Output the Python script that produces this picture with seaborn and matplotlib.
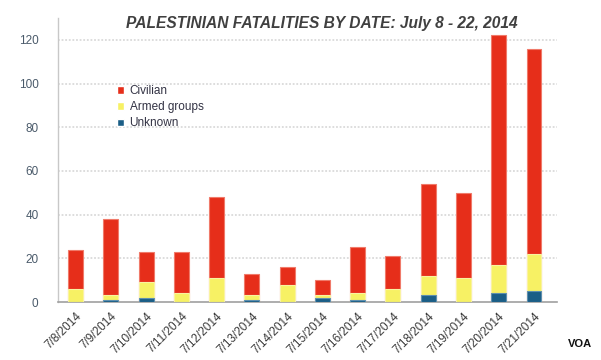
import matplotlib
matplotlib.use("Agg")
import matplotlib.pyplot as plt
import seaborn as sns
import pandas as pd
import numpy as np
from matplotlib.patches import Patch

dates = ["7/8/2014", "7/9/2014", "7/10/2014", "7/11/2014", "7/12/2014", "7/13/2014",
         "7/14/2014", "7/15/2014", "7/16/2014", "7/17/2014", "7/18/2014", "7/19/2014",
         "7/20/2014", "7/21/2014"]
civilian = [18, 35, 14, 19, 37, 10, 8, 7, 21, 15, 42, 39, 105, 94]
armed = [6, 2, 7, 4, 11, 2, 8, 1, 3, 6, 9, 11, 13, 17]
unknown = [0, 1, 2, 0, 0, 1, 0, 2, 1, 0, 3, 0, 4, 5]
yticks = [0, 20, 40, 60, 80, 100, 120]

c_red = "#E62E1A"
c_yel = "#F7F164"
c_blue = "#1B5E86"

df = pd.DataFrame({"date": dates, "civilian": civilian, "armed": armed, "unknown": unknown})
df["lvl_unknown"] = df["unknown"]
df["lvl_armed"] = df["unknown"] + df["armed"]
df["lvl_civ"] = df["lvl_armed"] + df["civilian"]

sns.set_theme(style="white")
plt.rcParams["font.family"] = ["Liberation Sans", "DejaVu Sans"]

fig = plt.figure(figsize=(6.01, 3.6), dpi=100)
ax = fig.add_axes([0.0965, 0.161, 0.83, 0.789])

w = 0.42
sns.barplot(data=df, x="date", y="lvl_civ", color=c_red, width=w, ax=ax,
            edgecolor="#F07A6A", linewidth=0.8, saturation=1, zorder=3)
sns.barplot(data=df, x="date", y="lvl_armed", color=c_yel, width=w, ax=ax,
            edgecolor="#F9F3A0", linewidth=0.8, saturation=1, zorder=3)
sns.barplot(data=df, x="date", y="lvl_unknown", color=c_blue, width=w, ax=ax,
            edgecolor="#5E8FAF", linewidth=0.8, saturation=1, zorder=3)

ax.set_xlim(-0.5, 13.65)
ax.set_ylim(0, 130)
ax.set_yticks(yticks)
ax.set_yticklabels([str(t) for t in yticks], color="#4A5A6A", fontsize=8.5)
for t in yticks[1:]:
    ax.axhline(t, color="#DADADA", linestyle=(0, (1, 1)), linewidth=1.3, zorder=1)

ax.set_xticks(np.arange(len(dates)))
ax.set_xticklabels(dates, rotation=45, ha="right", rotation_mode="anchor",
                   fontsize=8.5, color="#3A3A3A")
ax.tick_params(axis="x", length=0, pad=6)
ax.tick_params(axis="y", length=0, pad=14)
ax.set_xticks(np.arange(len(dates) + 1) - 0.5, minor=True)
ax.tick_params(axis="x", which="minor", length=4, color="#A0A0A0", width=1, direction="out")
ax.set_xlabel("")
ax.set_ylabel("")

for s in ["top", "right"]:
    ax.spines[s].set_visible(False)
ax.spines["left"].set_color("#C8C8C8")
ax.spines["bottom"].set_color("#A0A0A0")
ax.spines["left"].set_linewidth(1)
ax.spines["bottom"].set_linewidth(1.2)

handles = [Patch(facecolor=c_red, label="Civilian"),
           Patch(facecolor=c_yel, label="Armed groups"),
           Patch(facecolor=c_blue, label="Unknown")]
leg = ax.legend(handles=handles, loc="upper left", bbox_to_anchor=(0.108, 0.78),
                frameon=False, fontsize=8.5, handlelength=0.6, handleheight=0.6,
                handletextpad=0.5, labelspacing=0.35, borderaxespad=0)
for t in leg.get_texts():
    t.set_color("#333344")

fig.text(0.535, 0.935, "PALESTINIAN FATALITIES BY DATE: July 8 - 22, 2014",
         ha="center", va="center", fontsize=11.2, fontweight="bold", fontstyle="italic",
         color="#404040")
fig.text(0.965, 0.045, "VOA", ha="center", va="center", fontsize=8, fontweight="bold",
         color="#111111")

fig.savefig("out.png", dpi=100)
